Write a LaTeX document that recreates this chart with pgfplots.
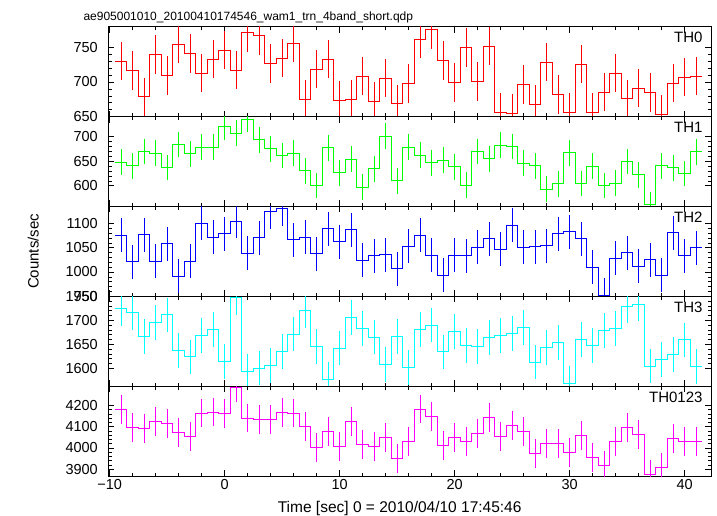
\documentclass[border=0pt]{standalone}
\usepackage{fontspec}
\setmainfont{Liberation Sans}
\usepackage{pgfplots}
\pgfplotsset{compat=1.18}
\usepackage{pgfplotstable}

\definecolor{qred}{RGB}{255,0,0}
\definecolor{qgreen}{RGB}{0,255,0}
\definecolor{qblue}{RGB}{0,0,255}
\definecolor{qcyan}{RGB}{0,255,255}
\definecolor{qmagenta}{RGB}{255,0,255}

\pgfplotstableread{
t v
-9 730.3
-8 716.3
-7 678.4
-6 739.4
-5 709.6
-4 754.8
-3 740.9
-2 713.0
-1 733.2
0 746.2
1 717.3
2 772.1
3 766.8
4 726.4
5 734.6
6 756.3
7 675.0
8 718.7
9 733.2
10 673.1
11 674.5
12 708.7
13 671.6
14 705.8
15 668.3
16 698.1
17 762.0
18 776.4
19 730.8
20 699.1
21 750.0
22 701.0
23 751.9
24 655.8
25 654.8
26 696.2
27 667.3
28 728.8
29 682.2
30 655.8
31 726.0
32 655.8
33 685.6
34 713.0
35 675.5
36 691.3
37 684.6
38 653.4
39 698.6
40 707.2
41 708.7
42 708.7
}\thzero

\pgfplotstableread{
t v
-9 648.0
-8 640.5
-7 669.6
-6 666.2
-5 637.2
-4 683.8
-3 664.9
-2 678.4
-1 678.4
0 719.6
1 706.8
2 735.1
3 693.2
4 675.0
5 661.5
6 666.2
7 630.4
8 600.7
9 677.0
10 626.4
11 654.1
12 597.3
13 634.5
14 700.7
15 610.1
16 678.4
17 662.2
18 646.6
19 652.0
20 638.5
21 601.3
22 669.6
23 654.7
24 682.4
25 679.7
26 645.9
27 640.5
28 593.2
29 604.1
30 666.9
31 604.7
32 639.9
33 600.7
34 605.4
35 649.3
36 622.3
37 562.2
38 640.5
39 636.5
40 625.0
41 668.9
42 668.9
}\thone

\pgfplotstableread{
t v
-9 1075.5
-8 1021.0
-7 1076.9
-6 1021.7
-5 1058.0
-4 990.9
-3 1022.4
-2 1100.0
-1 1071.3
0 1079.0
1 1104.2
2 1038.5
3 1070.6
4 1124.5
5 1130.0
6 1066.4
7 1072.0
8 1037.8
9 1088.8
10 1062.2
11 1087.4
12 1024.5
13 1033.6
14 1035.7
15 1006.3
16 1053.1
17 1076.2
18 1035.0
19 993.7
20 1035.0
21 1033.6
22 1051.0
23 1068.5
24 1046.9
25 1096.5
26 1051.0
27 1051.7
28 1053.8
29 1079.0
30 1083.2
31 1068.5
32 1009.8
33 951.7
34 1028.7
35 1039.9
36 1011.9
37 1025.2
38 993.7
39 1081.1
40 1033.6
41 1049.6
42 1049.6
}\thtwo

\pgfplotstableread{
t v
-9 1723.8
-8 1716.1
-7 1666.4
-6 1695.8
-5 1711.2
-4 1637.1
-3 1623.8
-2 1668.5
-1 1681.1
0 1614.7
1 1746.9
2 1593.7
3 1600.7
4 1605.6
5 1635.0
6 1671.3
7 1721.0
8 1645.5
9 1576.9
10 1642.0
11 1706.3
12 1682.5
13 1665.0
14 1607.7
15 1666.4
16 1601.4
17 1681.1
18 1690.2
19 1634.3
20 1676.2
21 1647.6
22 1645.5
23 1664.3
24 1668.5
25 1672.0
26 1685.3
27 1613.3
28 1643.4
29 1653.8
30 1568.5
31 1660.1
32 1647.6
33 1678.3
34 1683.2
35 1729.4
36 1733.6
37 1604.9
38 1618.2
39 1628.7
40 1659.4
41 1603.5
42 1603.5
}\ththree

\pgfplotstableread{
t v
-9 4181.2
-8 4096.3
-7 4091.6
-6 4126.2
-5 4116.8
-4 4071.2
-3 4052.4
-2 4163.9
-1 4168.6
0 4160.7
1 4281.7
2 4140.3
3 4134.0
4 4134.0
5 4165.4
6 4163.9
7 4099.5
8 4003.7
9 4079.1
10 4005.2
11 4124.6
12 4016.2
13 4006.8
14 4050.8
15 3950.3
16 4031.9
17 4182.7
18 4148.2
19 4011.5
20 4049.2
21 4030.4
22 4069.6
23 4143.5
24 4053.9
25 4105.8
26 4077.5
27 3973.8
28 4020.9
29 4020.9
30 3977.0
31 4060.2
32 3956.5
33 3915.7
34 4031.9
35 4096.3
36 4063.3
37 3876.4
38 3906.3
39 4046.1
40 4028.8
41 4031.9
42 4031.9
}\thsum

\pgfplotsset{
  panel/.style={
    scale only axis, width=602.7bp, height=89.86bp,
    anchor=north west,
    xmin=-10.12, xmax=42.29,
    xtick={-10,0,10,20,30,40},
    minor x tick num=4, minor y tick num=4,
    tick align=inside,
    major tick length=6bp, minor tick length=3.5bp,
    tick style={black, line width=0.6bp},
    axis line style={line width=0.7bp},
    xticklabels={},
    tick label style={font=\fontsize{14.5bp}{16bp}\selectfont},
    yticklabel style={xshift=-7bp},
    /pgf/number format/assume math mode=true,
    /pgf/number format/1000 sep={},
  },
}

\begin{document}
\begin{tikzpicture}
\path[use as bounding box] (-108.3bp,26.7bp) rectangle (608.7bp,-489.3bp);

\begin{axis}[panel, name=p1, at={(0bp,0bp)}, ymin=650, ymax=780, ytick={650,700,750}]
\addplot[qred, line width=0.9bp, const plot mark left] table[x expr=\thisrow{t}-0.5, y=v]{\thzero};
\addplot[draw=none, mark=none, restrict x to domain=-10:41.5,
  error bars/.cd, y dir=both, y fixed=28, error mark=none,
  error bar style={draw=qred, line width=0.9bp, solid}] table[x=t, y=v]{\thzero};
\end{axis}

\begin{axis}[panel, name=p2, at={(0bp,-89.86bp)}, ymin=558, ymax=740.5, ytick={600,650,700}]
\addplot[qgreen, line width=0.9bp, const plot mark left] table[x expr=\thisrow{t}-0.5, y=v]{\thone};
\addplot[draw=none, mark=none, restrict x to domain=-10:41.5,
  error bars/.cd, y dir=both, y fixed=26, error mark=none,
  error bar style={draw=qgreen, line width=0.9bp, solid}] table[x=t, y=v]{\thone};
\end{axis}

\begin{axis}[panel, name=p3, at={(0bp,-179.72bp)}, ymin=950, ymax=1135, ytick={950,1000,1050,1100}]
\addplot[qblue, line width=0.9bp, const plot mark left] table[x expr=\thisrow{t}-0.5, y=v]{\thtwo};
\addplot[draw=none, mark=none, restrict x to domain=-10:41.5,
  error bars/.cd, y dir=both, y fixed=35, error mark=none,
  error bar style={draw=qblue, line width=0.9bp, solid}] table[x=t, y=v]{\thtwo};
\end{axis}

\begin{axis}[panel, name=p4, at={(0bp,-269.58bp)}, ymin=1563, ymax=1750, ytick={1600,1650,1700,1750}]
\addplot[qcyan, line width=0.9bp, const plot mark left] table[x expr=\thisrow{t}-0.5, y=v]{\ththree};
\addplot[draw=none, mark=none, restrict x to domain=-10:41.5,
  error bars/.cd, y dir=both, y fixed=36, error mark=none,
  error bar style={draw=qcyan, line width=0.9bp, solid}] table[x=t, y=v]{\ththree};
\end{axis}

\begin{axis}[panel, name=p5, at={(0bp,-359.44bp)}, ymin=3868, ymax=4290, ytick={3900,4000,4100,4200},
  xticklabels={−10,0,10,20,30,40}]
\addplot[qmagenta, line width=0.9bp, const plot mark left] table[x expr=\thisrow{t}-0.5, y=v]{\thsum};
\addplot[draw=none, mark=none, restrict x to domain=-10:41.5,
  error bars/.cd, y dir=both, y fixed=68, error mark=none,
  error bar style={draw=qmagenta, line width=0.9bp, solid}] table[x=t, y=v]{\thsum};
\end{axis}

\node[anchor=base west, font=\fontsize{12bp}{14bp}\selectfont] at ([xshift=-28.3bp, yshift=6.7bp]p1.north west) {ae905001010\_20100410174546\_wam1\_trn\_4band\_short.qdp};
\node[rotate=90, font=\fontsize{15bp}{17bp}\selectfont] at ([xshift=-75bp]p3.west) {Counts/sec};
\node[font=\fontsize{15.5bp}{17bp}\selectfont] at ([xshift=-10bp, yshift=-32bp]p5.south) {Time [sec] 0 = 2010/04/10 17:45:46};
\foreach \p/\l in {p1/TH0, p2/TH1, p3/TH2, p4/TH3, p5/TH0123} {
  \node[anchor=base east, inner sep=0pt, font=\fontsize{15bp}{17bp}\selectfont] at ([xshift=-8.3bp, yshift=-16bp]\p.north east) {\l};
}
\end{tikzpicture}
\end{document}
